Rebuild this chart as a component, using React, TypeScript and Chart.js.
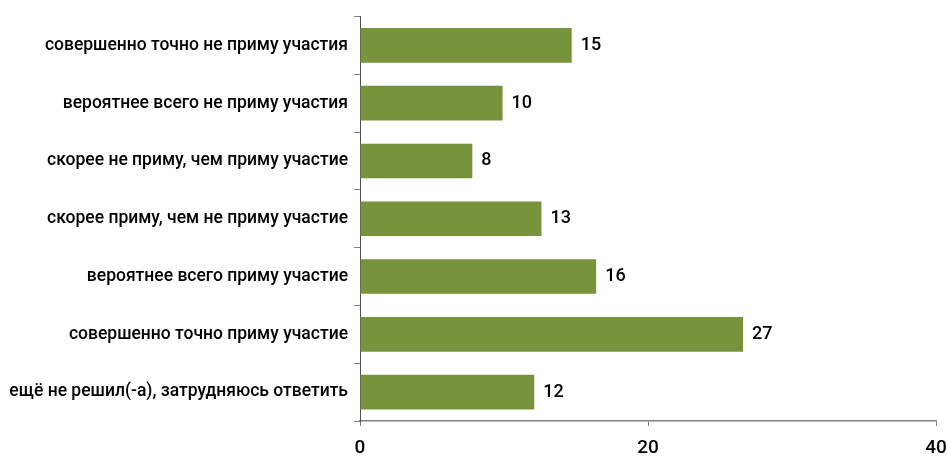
import React, { useEffect, useRef } from "react";
import { Chart, registerables } from "chart.js";

Chart.register(...registerables);

const categories = [
  "совершенно точно не приму участия",
  "вероятнее всего не приму участия",
  "скорее не приму, чем приму участие",
  "скорее приму, чем не приму участие",
  "вероятнее всего приму участие",
  "совершенно точно приму участие",
  "ещё не решил(-а), затрудняюсь ответить",
];
const values = [14.7, 9.9, 7.8, 12.6, 16.4, 26.6, 12.1];
const valueLabels = ["15", "10", "8", "13", "16", "27", "12"];
const xTicks = [0, 20, 40];

const FONT = "'Roboto', sans-serif";

const valueLabelPlugin = {
  id: "valueLabels",
  afterDatasetsDraw(chart: any) {
    const ctx = chart.ctx;
    const meta = chart.getDatasetMeta(0);
    ctx.save();
    ctx.fillStyle = "#000";
    ctx.font = `500 18px ${FONT}`;
    ctx.textAlign = "left";
    ctx.textBaseline = "middle";
    meta.data.forEach((bar: any, i: number) => {
      ctx.fillText(valueLabels[i], bar.x + 9, bar.y);
    });
    ctx.restore();
  },
};

export default function App() {
  const ref = useRef<HTMLCanvasElement>(null);
  useEffect(() => {
    document.body.style.margin = "0";
    const chart = new Chart(ref.current!, {
      type: "bar",
      data: {
        labels: categories,
        datasets: [
          {
            data: values,
            backgroundColor: "#77933C",
            categoryPercentage: 0.6,
            barPercentage: 1,
          },
        ],
      },
      options: {
        indexAxis: "y",
        animation: false,
        responsive: false,
        maintainAspectRatio: false,
        layout: { padding: { top: 16, right: 11, left: 0, bottom: 0 } },
        plugins: { legend: { display: false }, tooltip: { enabled: false } },
        scales: {
          x: {
            min: 0,
            max: 40,
            afterBuildTicks(scale: any) {
              scale.ticks = xTicks.map((v) => ({ value: v }));
            },
            afterFit(scale: any) {
              scale.height = 38;
              scale.paddingRight = 0;
              scale.paddingLeft = 0;
            },
            grid: {
              drawOnChartArea: false,
              drawTicks: true,
              tickLength: 5,
              color: "#808080",
            },
            border: { color: "#808080", width: 1.5 },
            ticks: {
              color: "#000",
              font: { family: FONT, size: 19, weight: "500" },
              padding: 11,
              maxRotation: 0,
            },
          },
          y: {
            afterFit(scale: any) {
              scale.width = 360;
            },
            grid: {
              drawOnChartArea: false,
              drawTicks: true,
              tickLength: 6,
              offset: true,
              color: "#808080",
            },
            border: { color: "#505050", width: 1 },
            ticks: {
              color: "#000",
              font: { family: FONT, size: 17.5, weight: "500" },
              padding: 6,
            },
          },
        },
      },
      plugins: [valueLabelPlugin],
    });
    return () => chart.destroy();
  }, []);
  return (
    <div style={{ width: 947, height: 459 }}>
      <canvas ref={ref} width={947} height={459} />
    </div>
  );
}
